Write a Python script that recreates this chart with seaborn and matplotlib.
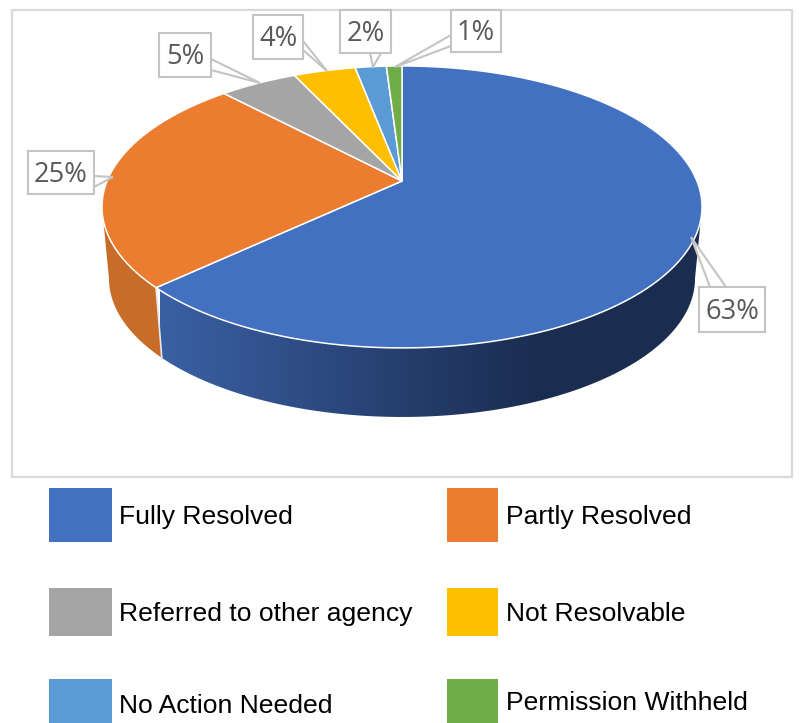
import numpy as np
import matplotlib.pyplot as plt
from matplotlib.colors import LinearSegmentedColormap
from matplotlib.patches import Rectangle, Polygon
import seaborn as sns

categories = ['Fully Resolved', 'Partly Resolved', 'Referred to other agency',
              'Not Resolvable', 'No Action Needed', 'Permission Withheld']
shares = [63, 25, 5, 4, 2, 1]
colors = ['#4271c2', '#eb7c30', '#a5a5a5', '#fdbf00', '#5b9bd5', '#70ad47']

sns.set_theme(style='white')
plt.rcParams['font.family'] = ['Liberation Sans', 'DejaVu Sans']

fig = plt.figure(figsize=(7.99, 7.23), dpi=100)
ax = fig.add_axes([0, 0, 1, 1])
ax.set_xlim(0, 799)
ax.set_ylim(723, 0)
ax.axis('off')

# perspective of the tilted disc
k = 0.184


def top_rim(t):
    u, v = np.cos(t), np.sin(t)
    return 402 + 294.9 * u / (1 + k * v), 181 - 136.2 * v / (1 + k * v)


def low_rim(t):
    u, v = np.cos(t), np.sin(t)
    return 402 + 288 * u / (1 + k * v), 253 - 133.8 * v / (1 + k * v)


def wall_outline(a, b):
    ts = np.radians(np.linspace(a, b, 300))
    x1, y1 = top_rim(ts)
    x2, y2 = low_rim(ts)
    return np.c_[np.r_[x1, x2[::-1]], np.r_[y1, y2[::-1]]]


ax.add_patch(Rectangle((12, 9.5), 780, 467.5, fc='white', ec='#d9d9d9', lw=1.6))

# slice angles, clockwise from 12 o'clock
ends = 90 - np.cumsum(shares) * 3.6
starts = np.r_[90, ends[:-1]]
split = ends[0] + 360

# side wall, front part only
ax.add_patch(Polygon(wall_outline(190.6, split), closed=True, fc='#c76c29', ec='none', zorder=2))
blue_wall = Polygon(wall_outline(split, 349.4), closed=True, fc='none', ec='none',
                    transform=ax.transData)
ax.add_patch(blue_wall)
shade = LinearSegmentedColormap.from_list(
    'wall', [(0, '#3a60a3'), (0.35, '#2f4e87'), (0.62, '#263f6e'), (1, '#1a2c50')])
img = ax.imshow(np.linspace(0, 1, 400)[None, :], cmap=shade, extent=(160, 545, 425, 280),
                aspect='auto', zorder=2)
wide = ax.imshow(np.ones((1, 2)), cmap=shade, vmin=0, vmax=1, extent=(545, 710, 425, 200),
                 aspect='auto', zorder=2)
img.set_clip_path(blue_wall)
wide.set_clip_path(blue_wall)
ax.set_xlim(0, 799)
ax.set_ylim(723, 0)

# seam between orange and blue walls
xs, ys = top_rim(np.radians(split))
xl, yl = low_rim(np.radians(split))
ax.plot([xs, xl], [ys, yl], color='#e4e7ee', lw=1.2, zorder=3)

# top of the pie
for s, e, col in zip(starts, ends, colors):
    ts = np.radians(np.linspace(s, e, 200))
    x, y = top_rim(ts)
    ax.fill(np.r_[402, x], np.r_[181, y], fc=col, ec='white', lw=1.1, zorder=4,
            joinstyle='round')

# data labels with callouts
callouts = [
    (699, 287, 765, 332, [(710, 287), (691, 237), (726, 287)]),
    (28, 151, 94, 194, [(94, 176), (113, 177), (94, 187)]),
    (159, 33, 211, 77, [(211, 59), (260, 83), (211, 70)]),
    (253, 15, 303, 59, [(303, 41), (327, 71), (303, 50)]),
    (340, 9.5, 391, 53, [(370, 53), (373, 67), (381, 53)]),
    (451, 9.5, 501, 52, [(451, 35), (395, 67), (451, 46)]),
]
for (x0, y0, x1, y1, tail), share in zip(callouts, shares):
    ax.add_patch(Polygon(tail, closed=True, fc='white', ec='#c4c4c4', lw=1.5, zorder=5))
    ax.add_patch(Rectangle((x0, y0), x1 - x0, y1 - y0, fc='white', ec='#c4c4c4',
                           lw=1.5, zorder=6))
    ax.text((x0 + x1) / 2, (y0 + y1) / 2 + 2.5, f'{share}%', ha='center', va='center',
            fontsize=19.6, color='#595959', family=['Open Sans', 'DejaVu Sans'], zorder=7)

# legend
legend_boxes = [
    (49, 488, 63, 54, 119, 517), (447, 488, 51, 54, 506, 517),
    (49, 588, 63, 48, 119, 614), (447, 588, 51, 48, 506, 614),
    (49, 679, 63, 44, 119, 706), (447, 679, 51, 44, 506, 703),
]
for (x, y, w, h, tx, ty), col, name in zip(legend_boxes, colors, categories):
    ax.add_patch(Rectangle((x, y), w, h, fc=col, ec='none'))
    ax.text(tx, ty, name, ha='left', va='center', fontsize=19.05, color='black')

fig.savefig('out.png', dpi=100)
